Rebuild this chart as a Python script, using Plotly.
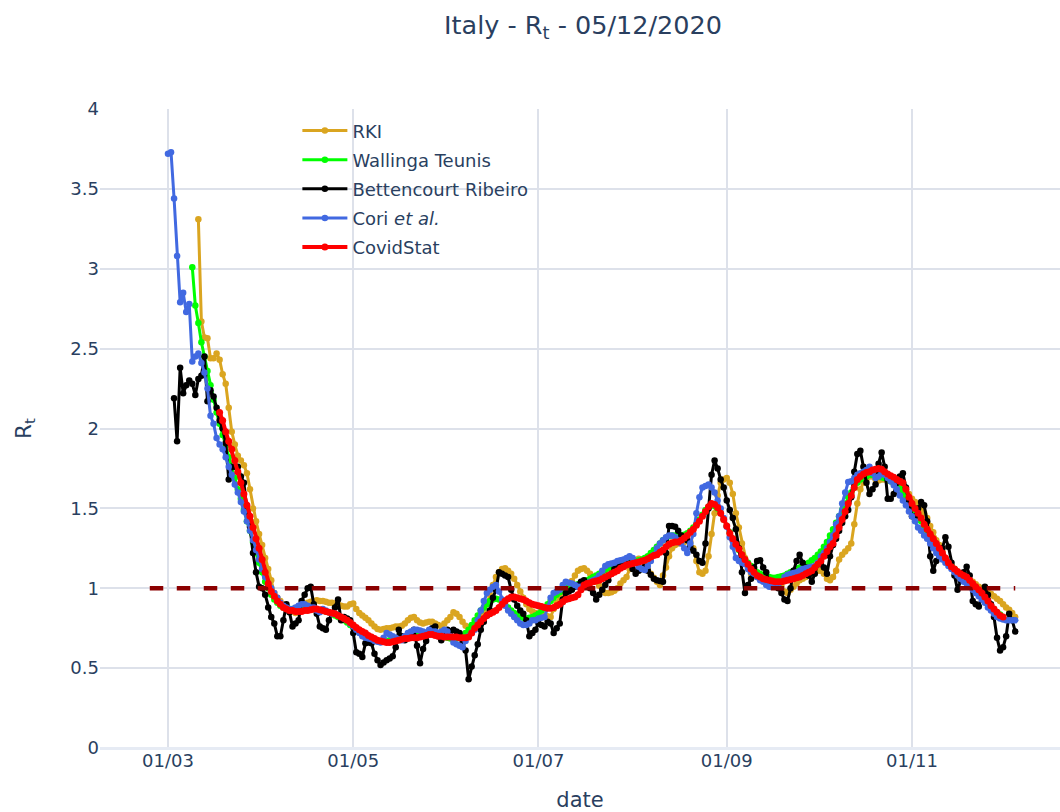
import pandas as pd
import plotly.graph_objects as go

# ---------------- data (daily Rt estimates, Italy 2020) ----------------
rki_start = "2020-03-11"
rki = [3.31, 2.67, 2.57, 2.565, 2.44, 2.44, 2.47, 2.43, 2.34, 2.28,
       2.13, 1.98, 1.90, 1.83, 1.80, 1.77, 1.72, 1.62, 1.50, 1.42,
       1.34, 1.27, 1.19, 1.12, 1.05, 0.97, 0.94, 0.92, 0.90, 0.885,
       0.87, 0.855, 0.845, 0.86, 0.88, 0.90, 0.91, 0.915, 0.92, 0.925,
       0.92, 0.92, 0.915, 0.91, 0.91, 0.905, 0.90, 0.89, 0.885, 0.885,
       0.90, 0.905, 0.87, 0.845, 0.83, 0.815, 0.80, 0.78, 0.76, 0.745,
       0.74, 0.745, 0.75, 0.75, 0.755, 0.76, 0.76, 0.765, 0.78, 0.80,
       0.815, 0.82, 0.80, 0.785, 0.78, 0.785, 0.79, 0.79, 0.78, 0.77,
       0.76, 0.78, 0.80, 0.82, 0.85, 0.84, 0.82, 0.79, 0.765, 0.755,
       0.75, 0.77, 0.79, 0.82, 0.85, 0.90, 0.96, 1.02, 1.07, 1.10,
       1.12, 1.125, 1.11, 1.09, 1.06, 1.02, 0.98, 0.94, 0.90, 0.87,
       0.855, 0.845, 0.84, 0.84, 0.835, 0.825, 0.82, 0.87, 0.91, 0.945,
       0.975, 1.00, 1.03, 1.045, 1.08, 1.11, 1.12, 1.125, 1.11, 1.09,
       1.06, 1.04, 1.015, 0.99, 0.97, 0.97, 0.975, 0.985, 1.00, 1.03,
       1.05, 1.07, 1.12, 1.155, 1.175, 1.185, 1.175, 1.15, 1.12, 1.09,
       1.065, 1.04, 1.02, 1.08, 1.13, 1.20, 1.25, 1.27, 1.28, 1.285,
       1.29, 1.30, 1.29, 1.25, 1.17, 1.10, 1.09, 1.11, 1.20, 1.34,
       1.47, 1.58, 1.66, 1.68, 1.69, 1.66, 1.59, 1.47, 1.38, 1.28,
       1.19, 1.12, 1.09, 1.08, 1.07, 1.06, 1.055, 1.05, 1.045, 1.035,
       1.03, 1.02, 1.02, 0.98, 0.97, 0.99, 1.01, 1.03, 1.05, 1.06,
       1.07, 1.08, 1.09, 1.10, 1.11, 1.11, 1.09, 1.06, 1.05, 1.07,
       1.11, 1.18, 1.21, 1.23, 1.25, 1.28, 1.40, 1.53, 1.62, 1.66,
       1.68, 1.70, 1.70, 1.68, 1.675, 1.68, 1.68, 1.675, 1.67, 1.66,
       1.655, 1.64, 1.63, 1.615, 1.59, 1.56, 1.54, 1.52, 1.50, 1.47,
       1.44, 1.39, 1.35, 1.30, 1.27, 1.23, 1.19, 1.16, 1.14, 1.12,
       1.10, 1.09, 1.07, 1.06, 1.05, 1.04, 1.025, 1.01, 1.00, 0.99,
       0.975, 0.965, 0.95, 0.935, 0.92, 0.90, 0.88, 0.865, 0.845, 0.82]

wt_start = "2020-03-09"
wallinga_teunis = [3.01, 2.77,
       2.66, 2.54, 2.45, 2.36, 2.27, 2.18, 2.10, 2.03, 1.96, 1.89,
       1.82, 1.76, 1.69, 1.62, 1.56, 1.49, 1.42, 1.36, 1.29, 1.22,
       1.16, 1.10, 1.04, 1.00, 0.96, 0.93, 0.91, 0.89, 0.88, 0.87,
       0.87, 0.87, 0.87, 0.875, 0.88, 0.88, 0.88, 0.875, 0.87, 0.865,
       0.86, 0.86, 0.855, 0.85, 0.84, 0.83, 0.82, 0.81, 0.80, 0.785,
       0.77, 0.755, 0.74, 0.725, 0.71, 0.70, 0.69, 0.68, 0.675, 0.67,
       0.665, 0.665, 0.67, 0.675, 0.68, 0.685, 0.69, 0.69, 0.695, 0.70,
       0.705, 0.71, 0.715, 0.72, 0.72, 0.72, 0.72, 0.715, 0.71, 0.705,
       0.70, 0.695, 0.69, 0.685, 0.68, 0.685, 0.69, 0.70, 0.72, 0.74,
       0.77, 0.80, 0.83, 0.86, 0.88, 0.90, 0.92, 0.93, 0.935, 0.93,
       0.92, 0.90, 0.88, 0.86, 0.845, 0.83, 0.82, 0.815, 0.81, 0.815,
       0.82, 0.83, 0.84, 0.86, 0.88, 0.90, 0.92, 0.94, 0.96, 0.975,
       0.99, 1.00, 1.01, 1.015, 1.02, 1.025, 1.03, 1.04, 1.05, 1.06,
       1.07, 1.08, 1.09, 1.10, 1.115, 1.125, 1.135, 1.145, 1.15, 1.155,
       1.16, 1.165, 1.17, 1.17, 1.17, 1.175, 1.18, 1.19, 1.20, 1.22,
       1.24, 1.26, 1.28, 1.30, 1.315, 1.325, 1.33, 1.33, 1.33, 1.33,
       1.335, 1.345, 1.36, 1.38, 1.40, 1.43, 1.46, 1.49, 1.51, 1.52,
       1.515, 1.50, 1.47, 1.43, 1.39, 1.35, 1.31, 1.27, 1.24, 1.21,
       1.18, 1.16, 1.14, 1.12, 1.10, 1.09, 1.08, 1.075, 1.07, 1.065,
       1.065, 1.07, 1.075, 1.08, 1.09, 1.10, 1.11, 1.12, 1.13, 1.14,
       1.15, 1.16, 1.175, 1.19, 1.21, 1.23, 1.26, 1.29, 1.33, 1.37,
       1.41, 1.45, 1.49, 1.53, 1.57, 1.60, 1.63, 1.66, 1.68, 1.69,
       1.70, 1.71, 1.71, 1.71, 1.70, 1.695, 1.69, 1.68, 1.67, 1.66,
       1.645, 1.625, 1.60, 1.57, 1.54, 1.51, 1.48, 1.45, 1.42, 1.39,
       1.36, 1.33, 1.30, 1.27, 1.24, 1.21, 1.18, 1.16, 1.14, 1.12,
       1.10, 1.08, 1.06, 1.045, 1.03, 1.01, 0.99, 0.97, 0.95, 0.93,
       0.91, 0.89, 0.87, 0.85, 0.835, 0.82]

br_start = "2020-03-03"
bettencourt_ribeiro = [2.19, 1.92, 2.38, 2.22, 2.27, 2.30, 2.28, 2.21,
       2.31, 2.33, 2.45, 2.17, 2.24, 2.20, 2.13, 2.05, 2.00, 1.91,
       1.68, 1.76, 1.76, 1.76, 1.70, 1.66, 1.49, 1.385, 1.22, 1.10,
       1.01, 1.00, 0.96, 0.88, 0.82, 0.78, 0.70, 0.70, 0.80, 0.90,
       0.85, 0.76, 0.78, 0.80, 0.92, 0.96, 1.00, 1.01, 0.90, 0.84,
       0.76, 0.75, 0.74, 0.80, 0.84, 0.88, 0.93, 0.80, 0.82, 0.81,
       0.80, 0.72, 0.60, 0.59, 0.57, 0.655, 0.66, 0.655, 0.59, 0.55,
       0.52, 0.535, 0.55, 0.56, 0.575, 0.63, 0.74, 0.70, 0.675, 0.71,
       0.72, 0.74, 0.64, 0.53, 0.62, 0.67, 0.72, 0.75, 0.76, 0.70,
       0.675, 0.72, 0.74, 0.73, 0.74, 0.73, 0.72, 0.66, 0.61, 0.43,
       0.51, 0.58, 0.65, 0.74, 0.79, 0.83, 0.86, 0.94, 0.99, 1.10,
       1.09, 1.08, 1.07, 0.99, 0.93, 0.89, 0.86, 0.84, 0.80, 0.70,
       0.72, 0.74, 0.78, 0.77, 0.76, 0.79, 0.78, 0.72, 0.75, 0.78,
       0.93, 0.97, 0.98, 0.99, 1.01, 1.02, 1.04, 1.05, 1.03, 1.00,
       0.97, 0.93, 0.96, 0.99, 1.02, 1.05, 1.09, 1.12, 1.13, 1.15,
       1.165, 1.16, 1.155, 1.12, 1.09, 1.11, 1.12, 1.135, 1.11, 1.085,
       1.06, 1.05, 1.045, 1.04, 1.22, 1.39, 1.39, 1.385, 1.36, 1.33,
       1.32, 1.30, 1.26, 1.235, 1.21, 1.17, 1.16, 1.28, 1.50, 1.71,
       1.80, 1.75, 1.68, 1.63, 1.55, 1.49, 1.44, 1.37, 1.25, 1.10,
       0.97, 1.02, 1.06, 1.13, 1.17, 1.175, 1.13, 1.10, 1.04, 1.02,
       1.01, 1.00, 0.97, 0.93, 0.92, 1.00, 1.11, 1.17, 1.21, 1.16,
       1.13, 1.08, 1.04, 1.09, 1.15, 1.15, 1.13, 1.09, 1.20, 1.27,
       1.31, 1.36, 1.41, 1.45, 1.49, 1.57, 1.73, 1.84, 1.86, 1.76,
       1.66, 1.59, 1.62, 1.65, 1.78, 1.85, 1.76, 1.56, 1.56, 1.59,
       1.66, 1.70, 1.72, 1.63, 1.55, 1.45, 1.45, 1.50, 1.54, 1.52,
       1.42, 1.20, 1.11, 1.17, 1.20, 1.25, 1.32, 1.26, 1.16, 1.08,
       0.99, 1.05, 1.10, 1.135, 1.08, 0.92, 0.90, 0.885, 0.96, 1.01,
       0.96, 0.90, 0.82, 0.69, 0.61, 0.63, 0.70, 0.84, 0.80, 0.73]

cori_start = "2020-03-01"
cori = [3.72, 3.73, 3.44, 3.08, 2.79, 2.85, 2.73, 2.78, 2.42, 2.45,
        2.47, 2.41, 2.35, 2.25, 2.08, 2.03, 1.94, 1.90, 1.87, 1.82,
        1.76, 1.71, 1.65, 1.60, 1.54, 1.48, 1.42, 1.36, 1.30, 1.24,
        1.18, 1.12, 1.07, 1.03, 1.00, 0.97, 0.94, 0.91, 0.89, 0.88,
        0.87, 0.87, 0.88, 0.89, 0.90, 0.90, 0.89, 0.88, 0.88, 0.86,
        0.85, 0.87, 0.86, 0.85, 0.84, 0.84, 0.83, 0.82, 0.81, 0.80,
        0.78, 0.76, 0.74, 0.72, 0.70, 0.69, 0.685, 0.68, 0.67, 0.665,
        0.66, 0.69, 0.72, 0.71, 0.70, 0.69, 0.68, 0.675, 0.70, 0.72,
        0.73, 0.74, 0.74, 0.735, 0.73, 0.72, 0.74, 0.73, 0.73, 0.72,
        0.73, 0.74, 0.73, 0.70, 0.66, 0.65, 0.64, 0.63, 0.67, 0.70,
        0.72, 0.74, 0.80, 0.86, 0.92, 0.97, 0.99, 1.01, 1.02, 0.98,
        0.93, 0.89, 0.86, 0.84, 0.82, 0.80, 0.78, 0.77, 0.77, 0.78,
        0.80, 0.80, 0.81, 0.815, 0.82, 0.88, 0.94, 0.97, 0.98, 0.99,
        1.02, 1.04, 1.035, 1.03, 1.02, 1.01, 1.01, 1.01, 1.02, 1.04,
        1.05, 1.06, 1.08, 1.11, 1.14, 1.15, 1.155, 1.16, 1.17, 1.175,
        1.18, 1.19, 1.20, 1.19, 1.16, 1.135, 1.12, 1.115, 1.14, 1.17,
        1.21, 1.25, 1.28, 1.30, 1.32, 1.33, 1.33, 1.32, 1.30, 1.28,
        1.25, 1.22, 1.28, 1.34, 1.47, 1.57, 1.63, 1.64, 1.65, 1.63,
        1.60, 1.55, 1.50, 1.44, 1.385, 1.32, 1.26, 1.19, 1.17, 1.16,
        1.15, 1.12, 1.10, 1.09, 1.07, 1.05, 1.04, 1.02, 1.01, 1.01,
        1.01, 1.01, 1.04, 1.07, 1.085, 1.09, 1.095, 1.10, 1.11, 1.12,
        1.125, 1.13, 1.135, 1.14, 1.16, 1.20, 1.22, 1.25, 1.29, 1.33,
        1.40, 1.45, 1.53, 1.60, 1.665, 1.67, 1.69, 1.71, 1.72, 1.73,
        1.74, 1.76, 1.72, 1.69, 1.70, 1.72, 1.71, 1.69, 1.67, 1.645,
        1.62, 1.58, 1.55, 1.52, 1.48, 1.45, 1.42, 1.38, 1.36, 1.33,
        1.31, 1.28, 1.25, 1.22, 1.20, 1.18, 1.16, 1.14, 1.12, 1.10,
        1.08, 1.06, 1.04, 1.03, 1.01, 0.99, 0.97, 0.95, 0.93, 0.91,
        0.88, 0.86, 0.84, 0.82, 0.81, 0.805, 0.80, 0.80, 0.80, 0.80]

covidstat_start = "2020-03-18"
covidstat = [2.10, 2.05, 1.98,
        1.92, 1.87, 1.80, 1.73, 1.66, 1.59, 1.52, 1.45, 1.38, 1.31,
        1.25, 1.18, 1.10, 1.03, 0.98, 0.95, 0.92, 0.90, 0.88, 0.87,
        0.86, 0.86, 0.855, 0.855, 0.855, 0.86, 0.86, 0.865, 0.87, 0.87,
        0.865, 0.86, 0.855, 0.85, 0.845, 0.84, 0.83, 0.82, 0.81, 0.80,
        0.785, 0.77, 0.755, 0.74, 0.73, 0.72, 0.705, 0.695, 0.685, 0.675,
        0.67, 0.665, 0.66, 0.66, 0.665, 0.67, 0.675, 0.68, 0.685, 0.685,
        0.69, 0.69, 0.69, 0.695, 0.70, 0.705, 0.71, 0.71, 0.705, 0.70,
        0.70, 0.695, 0.695, 0.695, 0.695, 0.695, 0.69, 0.69, 0.69, 0.695,
        0.72, 0.75, 0.77, 0.79, 0.81, 0.83, 0.84, 0.85, 0.86, 0.88,
        0.90, 0.92, 0.935, 0.945, 0.945, 0.94, 0.935, 0.93, 0.92, 0.91,
        0.90, 0.895, 0.89, 0.885, 0.88, 0.875, 0.875, 0.88, 0.89, 0.90,
        0.915, 0.93, 0.935, 0.94, 0.945, 0.96, 0.99, 1.02, 1.03, 1.035,
        1.04, 1.045, 1.05, 1.06, 1.07, 1.08, 1.09, 1.10, 1.11, 1.125,
        1.135, 1.145, 1.15, 1.155, 1.16, 1.165, 1.17, 1.175, 1.185, 1.195,
        1.205, 1.21, 1.225, 1.24, 1.26, 1.275, 1.285, 1.29, 1.29, 1.30,
        1.315, 1.33, 1.35, 1.37, 1.395, 1.42, 1.45, 1.48, 1.51, 1.53,
        1.525, 1.505, 1.47, 1.43, 1.39, 1.345, 1.31, 1.275, 1.245, 1.21,
        1.18, 1.15, 1.12, 1.10, 1.08, 1.07, 1.06, 1.055, 1.05, 1.045,
        1.04, 1.04, 1.04, 1.045, 1.05, 1.055, 1.06, 1.065, 1.07, 1.08,
        1.09, 1.10, 1.11, 1.13, 1.15, 1.17, 1.20, 1.23, 1.26, 1.28,
        1.33, 1.38, 1.43, 1.48, 1.53, 1.58, 1.63, 1.68, 1.70, 1.715,
        1.725, 1.73, 1.74, 1.745, 1.75, 1.745, 1.73, 1.715, 1.705, 1.695,
        1.68, 1.67, 1.66, 1.62, 1.57, 1.53, 1.50, 1.47, 1.44, 1.40,
        1.37, 1.34, 1.31, 1.28, 1.25, 1.22, 1.19, 1.16, 1.135, 1.12,
        1.105, 1.09, 1.08, 1.07, 1.05, 1.03, 1.01, 0.99, 0.97, 0.945,
        0.92, 0.89, 0.87, 0.85, 0.83, 0.82]

threshold_dates = ["2020-02-24", "2020-12-05"]
threshold_values = [1, 1]

x_range = ["2020-02-07 14:40", "2020-12-19 17:45"]
y_range = [0, 4]

title_text = "Italy - R<sub>t</sub> - 05/12/2020"

# ---------------- figure ----------------
def days(start, n):
    return pd.date_range(start, periods=n, freq="D")

series = [
    ("RKI", rki_start, rki, "goldenrod"),
    ("Wallinga Teunis", wt_start, wallinga_teunis, "lime"),
    ("Bettencourt Ribeiro", br_start, bettencourt_ribeiro, "black"),
    ("Cori <i>et al.</i>", cori_start, cori, "royalblue"),
]

FONT = "DejaVu Sans"
TXT = "#2a3f5f"

fig = go.Figure()
for name, start, vals, color in series:
    fig.add_trace(go.Scatter(
        x=days(start, len(vals)), y=vals, mode="lines+markers", name=name,
        legendgroup=name,
        line=dict(color=color, width=3), marker=dict(color=color, size=6.5)))

fig.add_trace(go.Scatter(
    x=threshold_dates, y=threshold_values, mode="lines", showlegend=False,
    line=dict(color="darkred", width=4.5, dash="dash"), hoverinfo="skip"))

fig.add_trace(go.Scatter(
    x=days(covidstat_start, len(covidstat)), y=covidstat, mode="lines+markers",
    name="CovidStat", legendgroup="CovidStat",
    line=dict(color="red", width=4), marker=dict(color="red", size=7)))

grid = "#DDE1EA"
fig.update_layout(
    template="plotly_white",
    width=1060, height=812,
    margin=dict(l=100, r=0, t=109, b=64, autoexpand=False),
    font=dict(family=FONT, size=18, color=TXT),
    title=dict(text=title_text, x=583 / 1060, xanchor="center",
               y=1 - 25 / 812, yanchor="middle", font=dict(size=25.5)),
    legend=dict(x=0.2056, y=0.9947, xanchor="left", yanchor="top",
                bgcolor="rgba(0,0,0,0)", font=dict(size=18),
                traceorder="grouped", tracegroupgap=2.7, itemwidth=45),
    xaxis=dict(title=dict(text="date", font=dict(size=21), standoff=22),
               automargin=False,
               range=x_range, tickformat="%d/%m", dtick="M2", tick0="2020-01-01",
               gridcolor=grid, gridwidth=1.5, showline=False, zeroline=False),
    yaxis=dict(title=dict(text="R<sub>t</sub>", font=dict(size=21), standoff=33),
               automargin=False,
               range=y_range, dtick=0.5, gridcolor=grid, gridwidth=1.5,
               zeroline=True, zerolinecolor="#E6EBF4", zerolinewidth=3),
)

fig.write_html("out.html",
               config={"displayModeBar": False},
               post_script="document.body.style.margin='0px';"
                           "document.body.style.overflow='hidden';")
